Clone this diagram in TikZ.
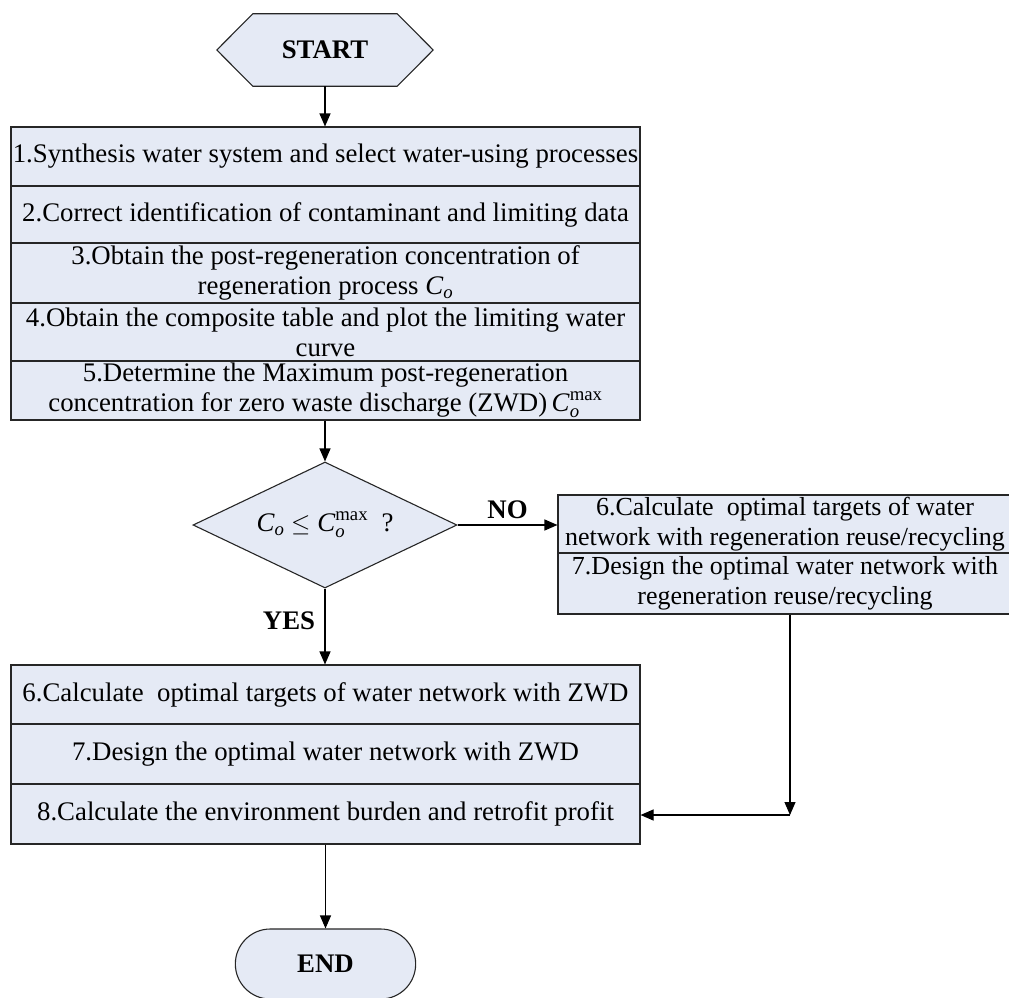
\documentclass[tikz,border=0pt]{standalone}
\usepackage{amsmath}
\usepackage{fontspec}
\setmainfont{Liberation Serif}
\usetikzlibrary{arrows.meta,shapes.geometric,shapes.misc}
\definecolor{boxfill}{RGB}{229,234,245}
\newcommand{\Cosub}{$\text{\textit{C}}_{\text{\textit{o}}}$}
\newcommand{\Comax}{$\text{\textit{C}}_{\text{\textit{o}}}^{\text{\upshape max}}$}
\tikzset{
  every node/.style={font=\fontsize{26.8}{30}\selectfont},
  rowbox/.style={draw=black!85, fill=boxfill, line width=1.1pt, inner sep=0pt, align=center, minimum width=629pt},
  sidebox/.style={draw=black!85, fill=boxfill, line width=1.1pt, inner sep=0pt, align=center, minimum width=454pt, font=\fontsize{26}{29.5}\selectfont},
  decision/.style={diamond, aspect=2.1, draw=black!85, fill=boxfill, line width=1.1pt, inner sep=0pt, minimum width=264pt, minimum height=126pt},
  terminal/.style={rounded rectangle, draw=black!85, fill=boxfill, line width=1.1pt, minimum width=187pt, minimum height=70pt, font=\fontsize{26.8}{30}\selectfont\bfseries},
  arr/.style={line width=1.1pt, -{Triangle[length=13pt,width=11pt]}},
  lbl/.style={font=\fontsize{26.8}{30}\selectfont\bfseries}
}
\begin{document}
\begin{tikzpicture}[x=1pt,y=-1pt]
\useasboundingbox (0,0) rectangle (1009,998);
% START hexagon
\node[font=\fontsize{26.8}{30}\selectfont\bfseries, minimum width=216pt, minimum height=72pt, inner sep=0pt] (start) at (325,50) {START};
\draw[draw=black!85, fill=boxfill, line width=1.1pt]
  (start.west) -- ([xshift=36pt]start.north west) -- ([xshift=-36pt]start.north east)
  -- (start.east) -- ([xshift=-36pt]start.south east) -- ([xshift=36pt]start.south west) -- cycle;
\node[font=\fontsize{26.8}{30}\selectfont\bfseries] at (start.center) {START};
% top stack
\node[rowbox, minimum height=59pt] (r1) at (325.5,156.5) {1.Synthesis water system and select water-using processes};
\node[rowbox, minimum height=57pt] (r2) at (325.5,214.5) {2.Correct identification of contaminant and limiting data};
\node[rowbox, minimum height=60pt] (r3) at (325.5,273) {3.Obtain the post-regeneration concentration of\\regeneration process \Cosub};
\node[rowbox, minimum height=58pt] (r4) at (325.5,332) {4.Obtain the composite table and plot the limiting water\\curve};
\node[rowbox, minimum height=59pt] (r5) at (325.5,390.5) {5.Determine the Maximum post-regeneration\\concentration for zero waste discharge (ZWD)\,\Comax};
% decision
\node[decision] (dec) at (325,525) {\Cosub\ $\leq$ \Comax\ \ ?};
% right stack
\node[sidebox, minimum height=58pt] (s6) at (785,524) {6.Calculate\ \ optimal targets of water\\network with regeneration reuse/recycling};
\node[sidebox, minimum height=61pt] (s7) at (785,583.5) {7.Design the optimal water network with\\regeneration reuse/recycling};
% lower stack
\node[rowbox, minimum height=59pt] (l6) at (325.5,694.5) {6.Calculate\ \ optimal targets of water network with ZWD};
\node[rowbox, minimum height=60pt] (l7) at (325.5,754) {7.Design the optimal water network with ZWD};
\node[rowbox, minimum height=60pt] (l8) at (325.5,814) {8.Calculate the environment burden and retrofit profit};
% END
\node[terminal] (end) at (325.5,964) {END};
% connectors
\draw[arr] (start.south) -- (start.south |- r1.north);
\draw[arr] (r5.south -| dec.north) -- (dec.north);
\draw[arr] (dec.east) -- (s6.west |- dec.east) node[lbl, pos=0.5, above=2pt] {NO};
\draw[arr] (dec.south) -- (dec.south |- l6.north) node[lbl, pos=0.42, left=6pt] {YES};
\coordinate (corner) at (790,815);
\draw[arr] (s7.south -| corner) -- (corner);
\draw[arr] (corner) -- (l8.east |- corner);
\draw[arr] (l8.south -| end.north) -- (end.north);
\end{tikzpicture}
\end{document}
